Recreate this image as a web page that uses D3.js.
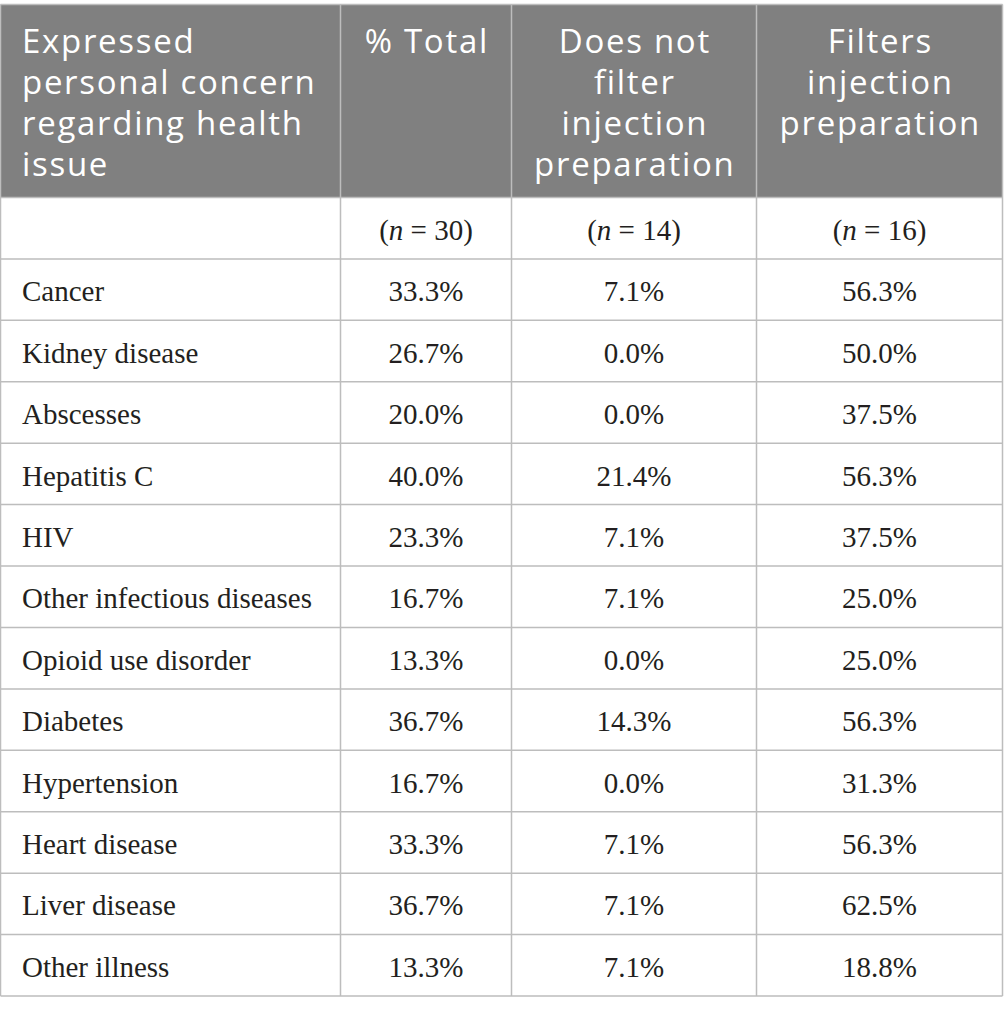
<!DOCTYPE html>
<meta charset="utf-8">
<style>
body { margin: 0; background: #fff; }
.hdr text { fill: #fff; font-family: "Open Sans", "Noto Sans", sans-serif; font-size: 33px; letter-spacing: 1.7px; }
.cell text { fill: #231f20; font-family: "Liberation Serif", "DejaVu Serif", serif; font-size: 29px; }
.grid line { stroke: #bdbdbd; stroke-width: 1.5px; }
</style>
<body>
<script src="https://cdn.jsdelivr.net/npm/d3@7"></script>
<script>

var headers = [
  ["Expressed", "personal concern", "regarding health", "issue"],
  ["% Total"],
  ["Does not", "filter", "injection", "preparation"],
  ["Filters", "injection", "preparation"]
];
var sampleSizes = ["", 30, 14, 16];
var issues = ["Cancer", "Kidney disease", "Abscesses", "Hepatitis C", "HIV",
  "Other infectious diseases", "Opioid use disorder", "Diabetes", "Hypertension",
  "Heart disease", "Liver disease", "Other illness"];
var pctTotal = [33.3, 26.7, 20.0, 40.0, 23.3, 16.7, 13.3, 36.7, 16.7, 33.3, 36.7, 13.3];
var pctNoFilter = [7.1, 0.0, 0.0, 21.4, 7.1, 7.1, 0.0, 14.3, 0.0, 7.1, 7.1, 7.1];
var pctFilter = [56.3, 50.0, 37.5, 56.3, 37.5, 25.0, 25.0, 56.3, 31.3, 56.3, 62.5, 18.8];

var width = 1004, height = 1014;
var colEdges = [0.5, 340.5, 511.5, 756.5, 1002.5];
var top0 = 4.5, headBottom = 197.5, tableBottom = 996;

var svg = d3.select("body").append("svg")
    .attr("width", width)
    .attr("height", height);

var rowKeys = ["n"].concat(issues);
var y = d3.scaleBand()
    .domain(rowKeys)
    .range([headBottom, tableBottom]);

var fmt = d3.format(".1f");
var rows = issues.map(function(d, i) {
  return [d, fmt(pctTotal[i]) + "%", fmt(pctNoFilter[i]) + "%", fmt(pctFilter[i]) + "%"];
});

// header block
var hdr = svg.append("g").attr("class", "hdr");
hdr.append("rect")
    .attr("x", colEdges[0])
    .attr("y", top0)
    .attr("width", colEdges[4] - colEdges[0])
    .attr("height", headBottom - top0)
    .attr("fill", "#808080");

headers.forEach(function(lines, c) {
  var left = c === 0;
  // letter-spacing adds a trailing gap, nudge centred text back by half of it
  var cx = left ? colEdges[0] + 21.5 : (colEdges[c] + colEdges[c + 1]) / 2 + 0.85;
  var t = hdr.append("text")
      .attr("text-anchor", left ? "start" : "middle")
      .attr("x", cx)
      .attr("y", 53);
  t.selectAll("tspan")
      .data(lines)
    .join("tspan")
      .attr("x", cx)
      .attr("dy", function(d, i) { return i ? 41 : 0; })
      .text(function(d) { return d; });
});

// grid
var grid = svg.append("g").attr("class", "grid");
grid.selectAll(".v")
    .data(colEdges)
  .join("line")
    .attr("x1", function(d) { return d; })
    .attr("x2", function(d) { return d; })
    .attr("y1", top0)
    .attr("y2", tableBottom);
grid.selectAll(".h")
    .data([top0].concat(rowKeys.map(function(k) { return y(k) + y.bandwidth(); })).concat([headBottom]))
  .join("line")
    .attr("class", "h")
    .attr("x1", colEdges[0])
    .attr("x2", colEdges[4])
    .attr("y1", function(d) { return d; })
    .attr("y2", function(d) { return d; });

// body cells
var body = svg.append("g").attr("class", "cell");

sampleSizes.forEach(function(n, c) {
  if (n === "") return;
  var t = body.append("text")
      .attr("text-anchor", "middle")
      .attr("x", (colEdges[c] + colEdges[c + 1]) / 2)
      .attr("y", y("n") + y.bandwidth() / 2)
      .attr("dy", "0.4em");
  t.append("tspan").text("(");
  t.append("tspan").attr("font-style", "italic").text("n");
  t.append("tspan").text(" = " + n + ")");
});

rows.forEach(function(r, i) {
  r.forEach(function(v, c) {
    var left = c === 0;
    body.append("text")
        .attr("text-anchor", left ? "start" : "middle")
        .attr("x", left ? colEdges[0] + 21.5 : (colEdges[c] + colEdges[c + 1]) / 2)
        .attr("y", y(issues[i]) + y.bandwidth() / 2)
        .attr("dy", "0.4em")
        .text(v);
  });
});

</script>
